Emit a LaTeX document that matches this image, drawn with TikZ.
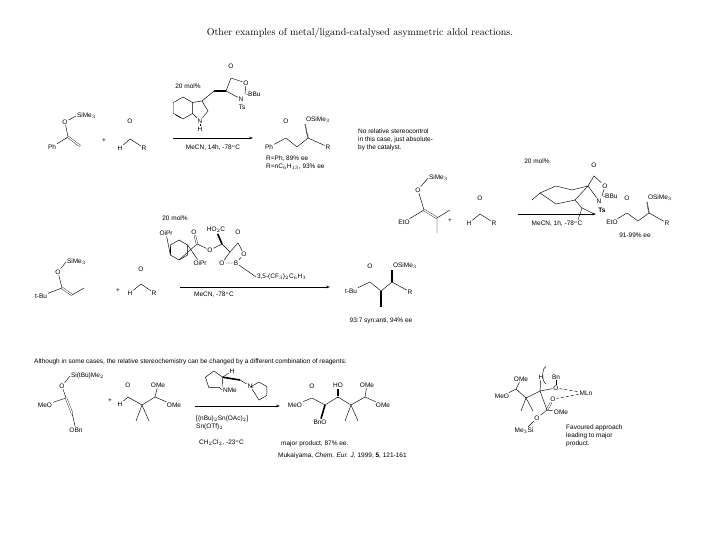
\documentclass[tikz,border=0pt]{standalone}
\usepackage{fontspec}
\setsansfont{Liberation Sans}
\usepackage{tikz}
\usetikzlibrary{arrows.meta,calc}
\tikzset{
  atom/.style={font=\sffamily\fontsize{6.5}{7}\selectfont, inner sep=0.8pt},
  txt/.style={font=\sffamily\fontsize{6.5}{8}\selectfont, inner sep=0pt, align=left},
  bond/.style={line width=0.45pt},
  dbl/.style={double, double distance=1.3pt, line width=0.35pt},
  hash/.style={line width=1.2pt, dash pattern=on 0.5pt off 0.6pt},
  wedge/.style={line width=1.6pt},
  rxn/.style={-{Stealth[length=4pt,width=2.5pt]}, line width=0.45pt}
}
\begin{document}
\begin{tikzpicture}[x=1pt,y=-1pt]
\useasboundingbox (0,0) rectangle (720,540);
\node[font=\fontsize{10}{11}\selectfont] (title) at (360,33) {Other examples of metal/ligand-catalysed asymmetric aldol reactions.};
% scheme 1: enol silane + aldehyde
\coordinate (ac) at (68,137);
\coordinate (ach) at (80,146);
\node[atom] (ao) at (65,122) {O};
\node[atom,anchor=west] (asi) at (76,116) {SiMe$_3$};
\node[atom] (aph) at (52,147) {Ph};
\draw[bond] (aph) -- (ac) -- (ao) -- (asi.west);
\draw[dbl] (ac) -- (ach);
\node[atom] (aplus) at (104,141) {+};
\coordinate (bc) at (130,139);
\node[atom] (bo) at (130,121) {O};
\node[atom] (bh) at (120,148) {H};
\node[atom] (br) at (144,148) {R};
\draw[dbl] (bc) -- (bo);
\draw[bond] (bh) -- (bc) -- (br);
% catalyst 1
\foreach \a [count=\i] in {30,90,150,210,270,330}
  \path (183,108) ++(\a:11) coordinate (ib\i);
\draw[bond] (ib1) -- (ib2) -- (ib3) -- (ib4) -- (ib5) -- (ib6) -- cycle;
\draw[bond] ($(ib2)!0.2!(ib3)$) -- ($(ib3)!0.2!(ib2)$);
\coordinate (ic3) at (202,101);
\coordinate (ic2) at (208,111);
\node[atom] (in) at (200,121) {N};
\node[atom] (ih) at (200,129) {H};
\draw[bond] (ib6) -- (ic3) -- (ic2) -- (in) -- (ib1);
\draw[bond] (in) -- (ih);
\coordinate (ich) at (214,91);
\coordinate (ica) at (226,91);
\coordinate (icc) at (231,78);
\node[atom] (ico) at (231,66) {O};
\node[atom] (icr) at (246,83) {O};
\node[atom] (icn) at (241,99) {N};
\node[atom,anchor=west] (icb) at (245,94) {-BBu};
\node[atom] (icts) at (242,107) {Ts};
\draw[bond] (ic3) -- (ich);
\draw[wedge] (ich) -- (ica);
\draw[bond] (ica) -- (icc) -- (icr) -- (icb.west);
\draw[dbl] (icc) -- (ico);
\draw[bond] (ica) -- (icn);
\node[txt] (cat1) at (188,86) {20 mol\%};
\coordinate (r1a) at (173,138);
\coordinate (r1b) at (253,138);
\draw[rxn] (r1a) -- (r1b);
\node[txt] (cond1) at (213,148) {MeCN, 14h, -78$^{\rm o}$C};
% product 1
\node[atom] (pph) at (269,147) {Ph};
\coordinate (pc1) at (286,138);
\node[atom] (po) at (286,121) {O};
\coordinate (pc2) at (297,147);
\coordinate (pc3) at (308,138);
\node[atom,anchor=west] (pos) at (305,120) {OSiMe$_3$};
\node[atom] (pr) at (328,147) {R};
\draw[bond] (pph) -- (pc1) -- (pc2) -- (pc3) -- (pr);
\draw[dbl] (pc1) -- (po);
\draw[hash] (pc3) -- (pos.south west);
\node[txt,anchor=west] (pee) at (266,163) {R=Ph, 89\% ee\\R=nC$_6$H$_{13}$, 93\% ee};
\node[txt,anchor=west] (note) at (358,140) {No relative stereocontrol\\in this case, just absolute-\\by the catalyst.};
% scheme 2
\coordinate (ec) at (424,210);
\coordinate (ec2) at (437,218);
\coordinate (em1) at (450,210);
\coordinate (em2) at (437,233);
\node[atom] (eo) at (418,190) {O};
\node[atom,anchor=west] (esi) at (428,178) {SiMe$_3$};
\node[atom] (eeto) at (404,222) {EtO};
\draw[bond] (eeto) -- (ec) -- (eo) -- (esi.west);
\draw[dbl] (ec) -- (ec2);
\draw[bond] (em1) -- (ec2) -- (em2);
\node[atom] (eplus) at (450,221) {+};
\coordinate (fc) at (480,214);
\node[atom] (fo) at (480,198) {O};
\node[atom] (fh) at (469,223) {H};
\node[atom] (fr) at (494,223) {R};
\draw[dbl] (fc) -- (fo);
\draw[bond] (fh) -- (fc) -- (fr);
% catalyst 2
\coordinate (k1) at (540,193);
\coordinate (k2) at (556,186);
\coordinate (k3) at (572,190);
\coordinate (k4) at (588,186);
\coordinate (k5) at (575,200);
\coordinate (k6) at (556,204);
\draw[bond] (k1) -- (k2) -- (k3) -- (k4) -- (k5) -- (k6) -- cycle;
\coordinate (km) at (532,200);
\draw[bond] (k1) -- (km);
\coordinate (kp) at (582,208);
\coordinate (kp1) at (578,220);
\coordinate (kp2) at (594,214);
\draw[bond] (k5) -- (kp) -- (kp1);
\draw[bond] (kp) -- (kp2);
\coordinate (kc) at (594,176);
\node[atom] (ko) at (594,165) {O};
\node[atom] (kro) at (605,186) {O};
\node[atom] (kn) at (599,201) {N};
\node[atom,anchor=west] (kb) at (602,196) {-BBu};
\node[atom,font=\sffamily\bfseries\fontsize{6.5}{7}\selectfont] (kts) at (602,210) {Ts};
\draw[dbl] (kc) -- (ko);
\draw[bond] (k4) -- (kc) -- (kro) -- (kb.west);
\draw[bond] (k4) -- (kn);
\node[txt] (cat2) at (537,161) {20 mol\%};
\coordinate (r2a) at (518,214);
\coordinate (r2b) at (596,214);
\draw[rxn] (r2a) -- (r2b);
\node[txt] (cond2) at (557,224) {MeCN, 1h, -78$^{\rm o}$C};
% product 2
\node[atom] (qeto) at (612,222) {EtO};
\coordinate (qc1) at (627,213);
\node[atom] (qo) at (627,198) {O};
\coordinate (qc2) at (638,221);
\coordinate (qc3) at (649,213);
\node[atom,anchor=west] (qos) at (647,198) {OSiMe$_3$};
\node[atom] (qr) at (667,223) {R};
\draw[bond] (qeto) -- (qc1) -- (qc2) -- (qc3) -- (qr);
\draw[dbl] (qc1) -- (qo);
\draw[hash] (qc3) -- (qos.south west);
\node[txt] (qee) at (635,235) {91-99\% ee};
% scheme 3
\coordinate (gc) at (62,288);
\coordinate (gc2) at (72,295);
\coordinate (gm) at (84,288);
\node[atom] (go) at (58,272) {O};
\node[atom,anchor=west] (gsi) at (66,262) {SiMe$_3$};
\node[atom] (gtbu) at (41,296) {t-Bu};
\draw[bond] (gtbu) -- (gc) -- (go) -- (gsi.west);
\draw[dbl] (gc) -- (gc2);
\draw[bond] (gc2) -- (gm);
\node[atom] (gplus) at (118,291) {+};
\coordinate (hc) at (141,284);
\node[atom] (ho) at (141,269) {O};
\node[atom] (hh) at (130,293) {H};
\node[atom] (hr) at (154,293) {R};
\draw[dbl] (hc) -- (ho);
\draw[bond] (hh) -- (hc) -- (hr);
% catalyst 3
\foreach \a [count=\i] in {30,90,150,210,270,330}
  \path (179,250) ++(\a:10) coordinate (tb\i);
\draw[bond] (tb1) -- (tb2) -- (tb3) -- (tb4) -- (tb5) -- (tb6) -- cycle;
\draw[bond] ($(tb3)!0.2!(tb4)$) -- ($(tb4)!0.2!(tb3)$);
\node[atom] (toip1) at (166,233) {OiPr};
\node[atom] (toip2) at (200,263) {OiPr};
\coordinate (tc) at (197,244);
\node[atom] (tco) at (194,232) {O};
\node[atom] (teo) at (210,250) {O};
\coordinate (tch) at (222,244);
\node[atom] (tho) at (216,230) {HO$_2$C};
\coordinate (tcl) at (230,252);
\coordinate (tcc) at (238,243);
\node[atom] (tlo) at (238,232) {O};
\node[atom] (tro) at (244,254) {O};
\node[atom] (tbb) at (236,263) {B};
\node[atom] (tob) at (222,263) {O};
\node[atom,anchor=west] (tar) at (256,277) {3,5-(CF$_3$)$_2$C$_6$H$_3$};
\draw[bond] (tb3) -- (toip1);
\draw[bond] (tb6) -- (toip2);
\draw[bond] (tb2) -- (tc) -- (teo) -- (tch) -- (tcl) -- (tcc) -- (tro) -- (tbb) -- (tob) -- (tcl);
\draw[dbl] (tc) -- (tco);
\draw[dbl] (tcc) -- (tlo);
\draw[wedge] (tch) -- (tho);
\draw[bond] (tbb) -- (tar.west);
\node[txt] (cat3) at (175,218) {20 mol\%};
\coordinate (r3a) at (180,287);
\coordinate (r3b) at (330,287);
\draw[rxn] (r3a) -- (r3b);
\node[txt] (cond3) at (214,295) {MeCN, -78$^{\rm o}$C};
% product 3
\node[atom] (utbu) at (351,291) {t-Bu};
\coordinate (uc1) at (370,282);
\node[atom] (uo) at (370,266) {O};
\coordinate (uc2) at (381,291);
\coordinate (um) at (381,307);
\coordinate (uc3) at (392,282);
\node[atom,anchor=west] (uos) at (392,266) {OSiMe$_3$};
\node[atom] (ur) at (410,292) {R};
\draw[bond] (utbu) -- (uc1) -- (uc2) -- (uc3) -- (ur);
\draw[dbl] (uc1) -- (uo);
\draw[wedge] (uc2) -- (um);
\draw[wedge] (uc3) -- (uos.south west);
\node[txt] (uee) at (381,321) {93:7 syn:anti, 94\% ee};
% scheme 4
\node[txt,anchor=west] (intro) at (34,362) {Although in some cases, the relative stereochemistry can be changed by a different combination of reagents:};
\coordinate (vc) at (66,398);
\coordinate (vc2) at (72,413);
\node[atom] (vo) at (62,386) {O};
\node[atom,anchor=west] (vsi) at (70,376) {Si(tBu)Me$_2$};
\node[atom] (vmeo) at (45,405) {MeO};
\node[atom] (vobn) at (76,430) {OBn};
\draw[bond] (vmeo) -- (vc) -- (vo) -- (vsi.west);
\draw[dbl] (vc) -- (vc2);
\draw[bond] (vc2) -- (vobn);
\node[atom] (vplus) at (110,401) {+};
\coordinate (wc) at (128,397);
\node[atom] (wo) at (128,385) {O};
\node[atom] (wh) at (120,404) {H};
\coordinate (wq) at (142,405);
\coordinate (wm1) at (136,421);
\coordinate (wm2) at (149,421);
\coordinate (wch) at (155,397);
\node[atom] (wome1) at (158,385) {OMe};
\node[atom] (wome2) at (174,405) {OMe};
\draw[dbl] (wc) -- (wo);
\draw[bond] (wh) -- (wc) -- (wq) -- (wch) -- (wome2);
\draw[bond] (wm1) -- (wq) -- (wm2);
\draw[bond] (wch) -- (wome1);
% catalyst 4
\foreach \a [count=\i] in {-18,54,126,198,270}
  \path (214,380) ++(\a:9) coordinate (xp\i);
\node[atom] (xn) at (230,390) {NMe};
\draw[bond] (xp1) -- (xp5) -- (xp4) -- (xp3) -- (xp2) -- (xn.west);
\draw[bond] (xp1) -- (xn.north west);
\node[atom] (xh) at (232,371) {H};
\coordinate (xch) at (240,380);
\node[atom] (xn2) at (250,386) {N};
\draw[bond] (xp1) -- (xh);
\draw[wedge] (xp1) -- (xch);
\draw[bond] (xch) -- (xn2);
\foreach \a [count=\i] in {150,210,270,330,30,90}
  \path (259,391) ++(\a:9) coordinate (xq\i);
\draw[bond] (xn2) -- (xq2) -- (xq3) -- (xq4) -- (xq5) -- (xq6) -- (xn2);
\coordinate (r4a) at (195,406);
\coordinate (r4b) at (280,406);
\draw[rxn] (r4a) -- (r4b);
\node[txt,anchor=west] (cond4) at (196,423) {[(nBu)$_2$Sn(OAc)$_2$]\\Sn(OTf)$_2$};
\node[txt,anchor=west] (cond4b) at (199,443) {CH$_2$Cl$_2$, -23$^{\rm o}$C};
% product 4
\node[atom] (ymeo) at (295,405) {MeO};
\coordinate (yc1) at (312,398);
\node[atom] (yo) at (312,386) {O};
\coordinate (yc2) at (325,405);
\node[atom] (ybno) at (320,422) {BnO};
\coordinate (yc3) at (338,397);
\node[atom] (yho) at (338,385) {HO};
\coordinate (yq) at (351,405);
\coordinate (ym1) at (345,421);
\coordinate (ym2) at (358,421);
\coordinate (yc4) at (365,397);
\node[atom] (yome1) at (367,385) {OMe};
\node[atom] (yome2) at (383,405) {OMe};
\draw[bond] (ymeo) -- (yc1) -- (yc2) -- (yc3) -- (yq) -- (yc4) -- (yome2);
\draw[dbl] (yc1) -- (yo);
\draw[wedge] (yc2) -- (ybno);
\draw[hash] (yc3) -- (yho);
\draw[bond] (ym1) -- (yq) -- (ym2);
\draw[bond] (yc4) -- (yome1);
\node[txt,anchor=west] (yee) at (281,444) {major product, 87\% ee.};
\node[txt,anchor=west] (ref) at (278,456) {Mukaiyama, \textit{Chem. Eur. J.} 1999, \textbf{5}, 121-161};
% transition state
\node[atom] (zmeo) at (502,396) {MeO};
\coordinate (zc1) at (516,389);
\node[atom] (zome) at (521,379) {OMe};
\coordinate (zq) at (526,398);
\coordinate (zm1) at (521,411);
\coordinate (zm2) at (533,411);
\coordinate (zc2) at (540,391);
\node[atom] (zh) at (541,377) {H};
\node[atom] (zbn) at (556,377) {Bn};
\node[atom] (zo1) at (556,388) {O};
\node[atom] (zo2) at (553,399) {O};
\node[atom] (zml) at (586,393) {MLn};
\coordinate (zc3) at (547,410);
\node[atom] (zome2) at (561,412) {OMe};
\node[atom] (zo3) at (537,418) {O};
\node[atom] (zsi) at (524,431) {Me$_3$Si};
\draw[bond] (zmeo) -- (zc1) -- (zq) -- (zc2);
\draw[bond] (zc1) -- (zome);
\draw[bond] (zm1) -- (zq) -- (zm2);
\draw[bond] (zc2) -- (zh);
\draw[bond] (zc2) -- (zo1);
\draw[bond] (zbn) -- (zo1);
\draw[dbl] (zo2) -- (zc3);
\draw[bond] (zc2) -- (zc3) -- (zome2);
\draw[bond] (zc3) -- (zo3) -- (zsi);
\draw[bond, densely dashed] (zo1) -- (zml) -- (zo2);
\draw[bond] (546,384) arc (100:260:4 and 9);
\node[txt,anchor=west] (zfav) at (566,436) {Favoured approach\\leading to major\\product.};
\end{tikzpicture}
\end{document}
